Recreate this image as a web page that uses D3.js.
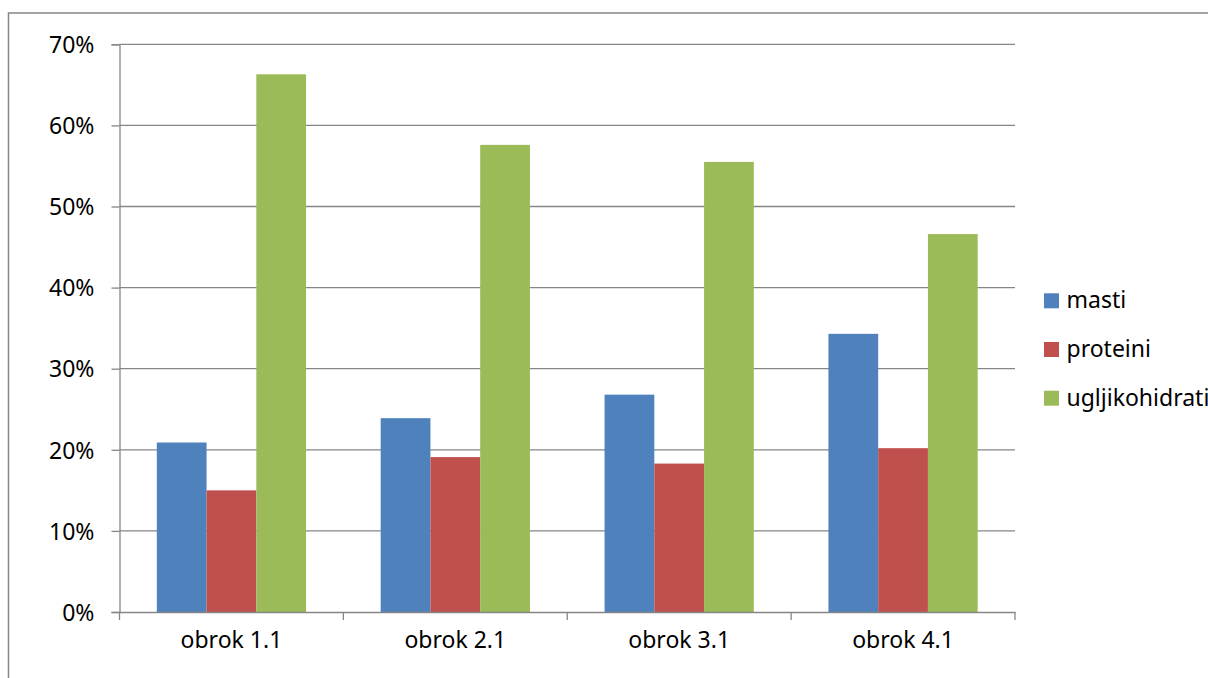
<!DOCTYPE html>
<html>
<head>
<meta charset="utf-8">
<script src="https://cdn.jsdelivr.net/npm/d3@7"></script>
<style>
  body { margin: 0; background: #fff; }
  svg { display: block; font-family: "Noto Sans", sans-serif; }
</style>
</head>
<body>
<svg id="chart" width="1208" height="678"></svg>
<script>
// data
var categories = ['obrok 1.1', 'obrok 2.1', 'obrok 3.1', 'obrok 4.1']
var seriesNames = ['masti', 'proteini', 'ugljikohidrati']
var masti = [0.209, 0.239, 0.268, 0.343]
var proteini = [0.150, 0.191, 0.183, 0.202]
var ugljikohidrati = [0.663, 0.576, 0.555, 0.466]
var yTicks = [0, 0.1, 0.2, 0.3, 0.4, 0.5, 0.6, 0.7]
var colors = ['#4F81BD', '#C0504D', '#9BBB59']

var values = [masti, proteini, ugljikohidrati]
var grey = '#868686'
var fontSize = '23px'
var svg = d3.select('#chart')

// outer frame, runs off right and bottom
svg.append('rect')
  .attr('x', 8.5).attr('y', 13)
  .attr('width', 1300).attr('height', 800)
  .attr('fill', 'none')
  .attr('stroke', grey)
  .attr('stroke-width', 1.5)

var plotLeft = 119.5, plotRight = 1015, plotTop = 44.3, plotBottom = 612

var x = d3.scaleBand().domain(categories).range([plotLeft, plotRight])
var xInner = d3.scaleBand().domain(seriesNames)
  .range([0, x.bandwidth()]).paddingOuter(0.75).paddingInner(0)
var y = d3.scaleLinear().domain([0, 0.7]).range([plotBottom, plotTop])

// gridlines
svg.append('g').selectAll('line')
  .data(yTicks.slice(1))
  .enter().append('line')
  .attr('x1', plotLeft).attr('x2', plotRight)
  .attr('y1', function (d) { return y(d) })
  .attr('y2', function (d) { return y(d) })
  .attr('stroke', grey)
  .attr('stroke-width', 1.3)

// bars
var groups = svg.append('g').selectAll('g')
  .data(categories)
  .enter().append('g')
  .attr('transform', function (d) { return 'translate(' + x(d) + ',0)' })

groups.selectAll('rect')
  .data(function (d, i) {
    return seriesNames.map(function (s, j) { return { s: s, v: values[j][i], j: j } })
  })
  .enter().append('rect')
  .attr('x', function (d) { return xInner(d.s) })
  .attr('width', xInner.bandwidth())
  .attr('y', function (d) { return y(d.v) })
  .attr('height', function (d) { return plotBottom - y(d.v) })
  .attr('fill', function (d) { return colors[d.j] })

// y axis
var yAxis = svg.append('g')
  .attr('transform', 'translate(' + plotLeft + ',0)')
  .call(d3.axisLeft(y).tickValues(yTicks).tickFormat(d3.format('.0%')).tickSize(8).tickPadding(17))
yAxis.select('.domain').attr('stroke', grey).attr('stroke-width', 1.3)
yAxis.selectAll('.tick line').attr('stroke', grey).attr('stroke-width', 1.3)
yAxis.selectAll('.tick text')
  .attr('font-size', fontSize)
  .attr('font-family', 'Noto Sans')
  .attr('fill', '#000')
  .attr('dy', '0.36em')

// x axis
var xAxis = svg.append('g')
  .attr('transform', 'translate(0,' + plotBottom + ')')
  .call(d3.axisBottom(x).tickSize(0).tickPadding(20))
xAxis.select('.domain').attr('stroke', grey).attr('stroke-width', 1.3)
xAxis.selectAll('.tick text')
  .attr('font-size', fontSize)
  .attr('font-family', 'Noto Sans')
  .attr('fill', '#000')

// category boundary ticks
var bounds = categories.map(function (c) { return x(c) }).concat([plotRight])
svg.append('g').selectAll('line')
  .data(bounds)
  .enter().append('line')
  .attr('x1', function (d) { return d }).attr('x2', function (d) { return d })
  .attr('y1', plotBottom).attr('y2', plotBottom + 8)
  .attr('stroke', grey)
  .attr('stroke-width', 1.3)

// legend
var legend = svg.append('g').selectAll('g')
  .data(seriesNames)
  .enter().append('g')
  .attr('transform', function (d, i) { return 'translate(1044,' + (293.3 + i * 48.7) + ')' })

legend.append('rect')
  .attr('width', 15).attr('height', 15)
  .attr('fill', function (d, i) { return colors[i] })

legend.append('text')
  .attr('x', 22.5)
  .attr('y', 15)
  .attr('font-size', fontSize)
  .attr('fill', '#000')
  .text(function (d) { return d })
</script>
</body>
</html>
